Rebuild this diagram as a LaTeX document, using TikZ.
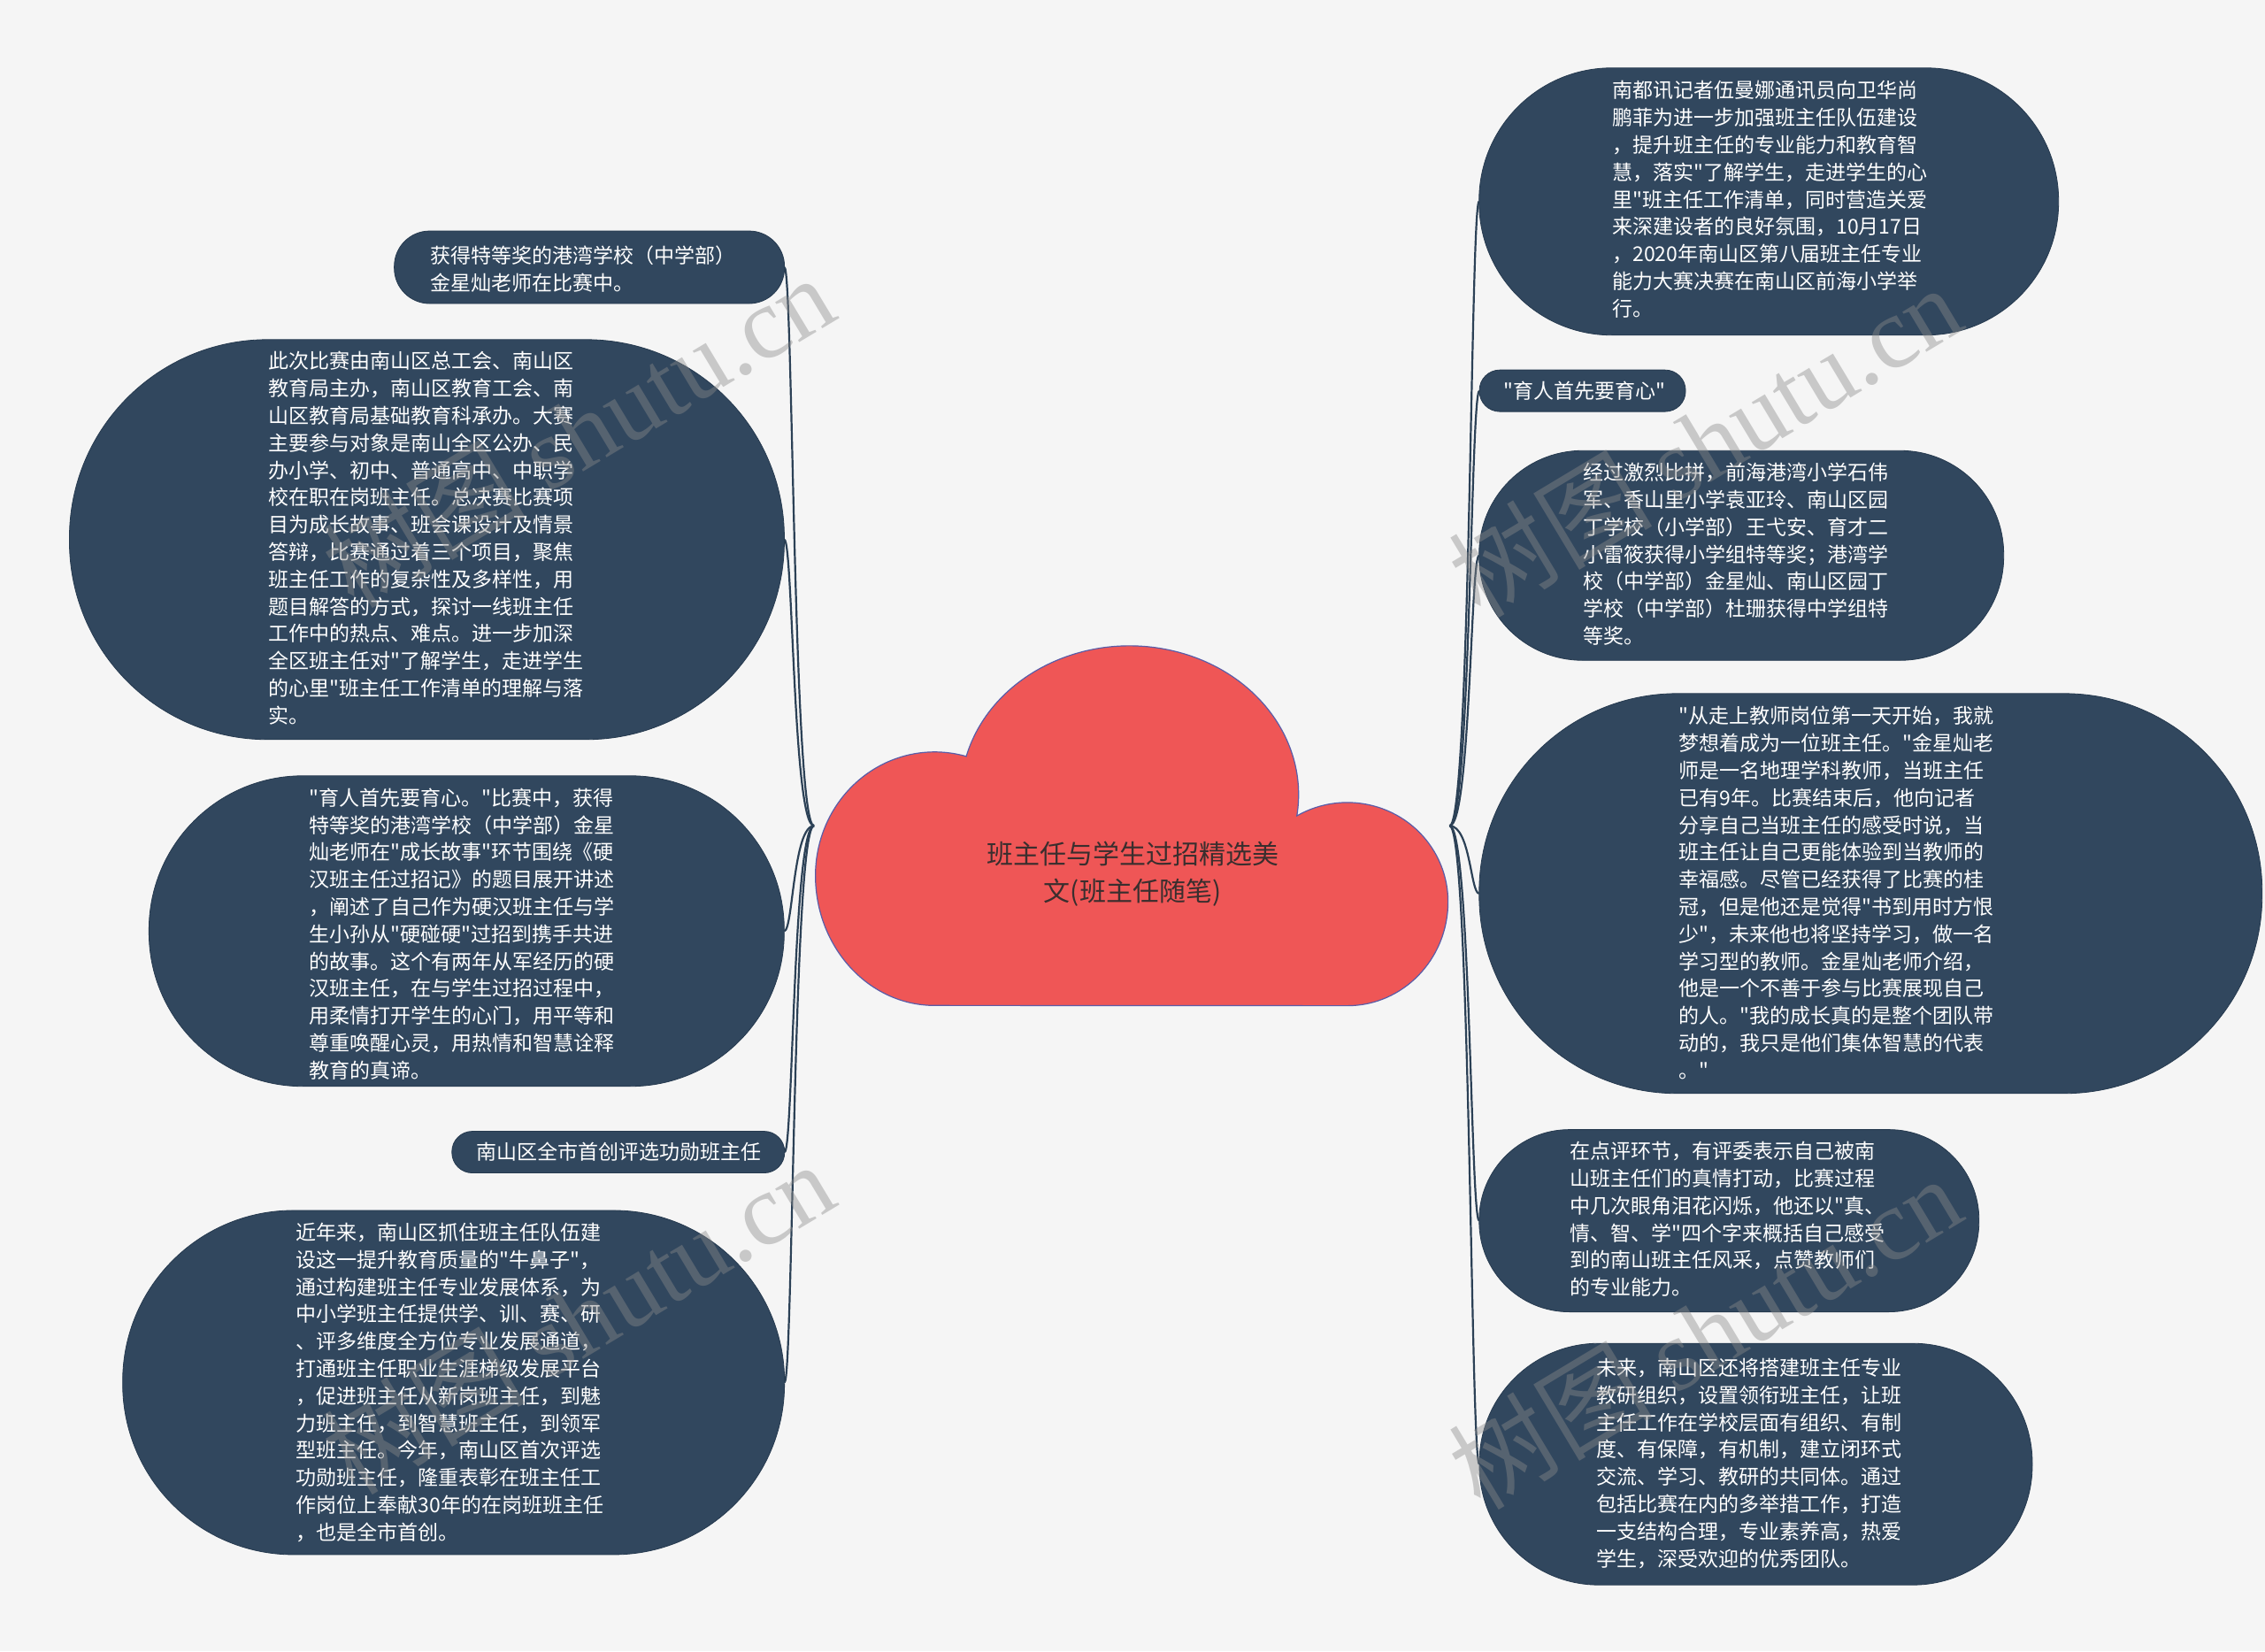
\documentclass[tikz,border=0pt]{standalone}
\usepackage{fontspec}
\setmainfont{Noto Sans CJK SC}[Ligatures=TeXOff]
\newfontfamily\wmlatin{Liberation Serif}[Ligatures=TeXOff]
\usetikzlibrary{calc}
\definecolor{bg}{HTML}{F5F5F5}
\definecolor{boxfill}{HTML}{31475E}
\definecolor{boxline}{HTML}{263A4F}
\definecolor{linkc}{HTML}{2C4156}
\definecolor{cloudfill}{HTML}{EF5656}
\definecolor{cloudline}{HTML}{5A5DA8}
\definecolor{titlec}{HTML}{3A2E2E}
\definecolor{wmc}{HTML}{8A8A8A}
\begin{document}
\begin{tikzpicture}[x=1.6327pt,y=-1.6327pt,
  box/.style={draw=boxline, line width=0.8pt, fill=boxfill, rectangle, inner sep=0pt, outer sep=0pt},
  txt/.style={text=white, anchor=west, align=left, inner sep=0pt, font=\fontsize{23}{30.8}\selectfont},
  link/.style={draw=linkc, line width=2.2pt},
  wm/.style={text=wmc, opacity=0.42, rotate=31, inner sep=0pt, font=\fontsize{115}{115}\selectfont}
]
\fill[bg] (0,0) rectangle (1568,1143);
\useasboundingbox (0,0) rectangle (1568,1143);

% anchor points of the cloud
\coordinate (cw) at (563.5,571.6);
\coordinate (ce) at (1003.5,571.6);

% boxes
\node[box, minimum width=441pt, minimum height=82pt, rounded corners=40pt] (l1) at (408,185) {};
\node[box, minimum width=808pt, minimum height=452pt, rounded corners=224pt] (l2) at (295.5,373.5) {};
\node[box, minimum width=718pt, minimum height=351pt, rounded corners=174pt] (l3) at (323,644.5) {};
\node[box, minimum width=376pt, minimum height=47pt, rounded corners=23pt] (l4) at (428,797.5) {};
\node[box, minimum width=748pt, minimum height=389pt, rounded corners=193pt] (l5) at (314,957) {};
\node[box, minimum width=655pt, minimum height=302pt, rounded corners=150pt] (r1) at (1224.5,139.5) {};
\node[box, minimum width=233pt, minimum height=47pt, rounded corners=23pt] (r2) at (1095.5,270.5) {};
\node[box, minimum width=593pt, minimum height=237pt, rounded corners=117pt] (r3) at (1205.5,384.5) {};
\node[box, minimum width=885pt, minimum height=452pt, rounded corners=224pt] (r4) at (1295,618.5) {};
\node[box, minimum width=565pt, minimum height=206pt, rounded corners=102pt] (r5) at (1197,845) {};
\node[box, minimum width=625pt, minimum height=273pt, rounded corners=135pt] (r6) at (1215.5,1013.5) {};

% connectors
\foreach \n/\y in {l1/185, l2/373.5, l3/644.5, l4/797.5, l5/957}
  \draw[link] (cw) .. controls (549,572) and (549,\y) .. (\n.east);
\foreach \n/\y in {r1/139.5, r2/270.5, r3/384.5, r4/618.5, r5/845, r6/1013.5}
  \draw[link] (ce) .. controls (1018,572) and (1018,\y) .. (\n.west);

% cloud
\draw[fill=cloudfill, draw=cloudline, line width=1.2pt] (647,696)
  arc[start angle=90, end angle=180, x radius=82.5, y radius=90]
  arc[start angle=180, end angle=285.4, x radius=82.5, y radius=85.5]
  arc[start angle=194.9, end angle=368.2, x radius=117, y radius=103]
  arc[start angle=239.9, end angle=360, x radius=69.7, y radius=68.7]
  arc[start angle=0, end angle=90, x radius=69.7, y radius=72]
  -- cycle;
\node[text=titlec, align=center, font=\fontsize{30}{42.5}\selectfont] (title) at (784,605) {班主任与学生过招精选美\\文(班主任随笔)};

% texts
\node[txt] (l1t) at (298,186.5) {获得特等奖的港湾学校（中学部）\\金星灿老师在比赛中。};
\node[txt] (l2t) at (186,372.5) {此次比赛由南山区总工会、南山区\\
教育局主办，南山区教育工会、南\\
山区教育局基础教育科承办。大赛\\
主要参与对象是南山全区公办、民\\
办小学、初中、普通高中、中职学\\
校在职在岗班主任。总决赛比赛项\\
目为成长故事、班会课设计及情景\\
答辩，比赛通过着三个项目，聚焦\\
班主任工作的复杂性及多样性，用\\
题目解答的方式，探讨一线班主任\\
工作中的热点、难点。进一步加深\\
全区班主任对"了解学生，走进学生\\
的心里"班主任工作清单的理解与落\\
实。};
\node[txt] (l3t) at (214,646.5) {"育人首先要育心。"比赛中，获得\\
特等奖的港湾学校（中学部）金星\\
灿老师在"成长故事"环节围绕《硬\\
汉班主任过招记》的题目展开讲述\\
，阐述了自己作为硬汉班主任与学\\
生小孙从"硬碰硬"过招到携手共进\\
的故事。这个有两年从军经历的硬\\
汉班主任，在与学生过招过程中，\\
用柔情打开学生的心门，用平等和\\
尊重唤醒心灵，用热情和智慧诠释\\
教育的真谛。};
\node[txt] (l4t) at (330,797.5) {南山区全市首创评选功勋班主任};
\node[txt] (l5t) at (205,957) {近年来，南山区抓住班主任队伍建\\
设这一提升教育质量的"牛鼻子"，\\
通过构建班主任专业发展体系，为\\
中小学班主任提供学、训、赛、研\\
、评多维度全方位专业发展通道，\\
打通班主任职业生涯梯级发展平台\\
，促进班主任从新岗班主任，到魅\\
力班主任，到智慧班主任，到领军\\
型班主任。今年，南山区首次评选\\
功勋班主任，隆重表彰在班主任工\\
作岗位上奉献30年的在岗班班主任\\
，也是全市首创。};
\node[txt] (r1t) at (1116,138) {南都讯记者伍曼娜通讯员向卫华尚\\
鹏菲为进一步加强班主任队伍建设\\
，提升班主任的专业能力和教育智\\
慧，落实"了解学生，走进学生的心\\
里"班主任工作清单，同时营造关爱\\
来深建设者的良好氛围，10月17日\\
，2020年南山区第八届班主任专业\\
能力大赛决赛在南山区前海小学举\\
行。};
\node[txt] (r2t) at (1041,270.5) {"育人首先要育心"};
\node[txt] (r3t) at (1096,383.5) {经过激烈比拼，前海港湾小学石伟\\
军、香山里小学袁亚玲、南山区园\\
丁学校（小学部）王弋安、育才二\\
小雷筱获得小学组特等奖；港湾学\\
校（中学部）金星灿、南山区园丁\\
学校（中学部）杜珊获得中学组特\\
等奖。};
\node[txt] (r4t) at (1162,618) {"从走上教师岗位第一天开始，我就\\
梦想着成为一位班主任。"金星灿老\\
师是一名地理学科教师，当班主任\\
已有9年。比赛结束后，他向记者\\
分享自己当班主任的感受时说，当\\
班主任让自己更能体验到当教师的\\
幸福感。尽管已经获得了比赛的桂\\
冠，但是他还是觉得"书到用时方恨\\
少"，未来他也将坚持学习，做一名\\
学习型的教师。金星灿老师介绍，\\
他是一个不善于参与比赛展现自己\\
的人。"我的成长真的是整个团队带\\
动的，我只是他们集体智慧的代表\\
。"};
\node[txt] (r5t) at (1087,844) {在点评环节，有评委表示自己被南\\
山班主任们的真情打动，比赛过程\\
中几次眼角泪花闪烁，他还以"真、\\
情、智、学"四个字来概括自己感受\\
到的南山班主任风采，点赞教师们\\
的专业能力。};
\node[txt] (r6t) at (1105,1013) {未来，南山区还将搭建班主任专业\\
教研组织，设置领衔班主任，让班\\
主任工作在学校层面有组织、有制\\
度、有保障，有机制，建立闭环式\\
交流、学习、教研的共同体。通过\\
包括比赛在内的多举措工作，打造\\
一支结构合理，专业素养高，热爱\\
学生，深受欢迎的优秀团队。};

% watermarks
\node[wm] (wm1) at (400,298) {树图 {\wmlatin shutu.cn}};
\node[wm] (wm2) at (1180,305) {树图 {\wmlatin shutu.cn}};
\node[wm] (wm3) at (400,912) {树图 {\wmlatin shutu.cn}};
\node[wm] (wm4) at (1180,922) {树图 {\wmlatin shutu.cn}};
\end{tikzpicture}
\end{document}
